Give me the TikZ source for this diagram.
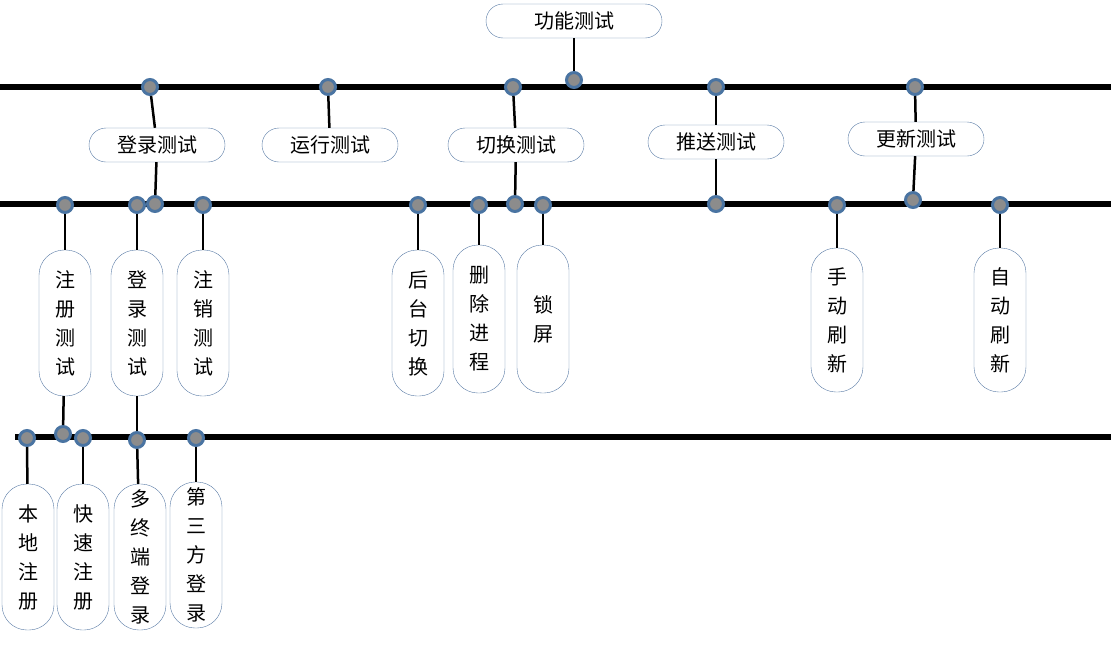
\documentclass[tikz,border=0pt]{standalone}
\usepackage{fontspec}
\setmainfont{Noto Sans CJK SC}
\usetikzlibrary{positioning}
\definecolor{ringblue}{HTML}{4A74A2}
\definecolor{dotgrey}{HTML}{8C8C8C}
\definecolor{edgeblue}{HTML}{5A7CA6}

\begin{document}
\begin{tikzpicture}[
    x=1pt, y=-1pt,
    topic/.style={draw=edgeblue, fill=white, rounded corners=17pt, align=center, minimum height=34pt, minimum width=136pt, font=\fontsize{20}{22}\selectfont, inner sep=2pt},
    leaf/.style={draw=edgeblue, fill=white, rounded corners=25pt, align=center, minimum width=52pt, text width=30pt, font=\fontsize{20}{29}\selectfont, inner sep=4pt},
    bar/.style={line width=6pt},
    stem/.style={line width=2.5pt},
    dot/.style={circle, draw=ringblue, fill=dotgrey, line width=3pt, minimum size=15pt, inner sep=0pt}
]
    \useasboundingbox (0,0) rectangle (1111,648);

    % bars
    \draw[bar] (0,87) -- (1111,87);
    \draw[bar] (0,204) -- (1111,204);
    \draw[bar] (15,437) -- (1111,437);

    % root
    \node[topic, minimum width=176pt] (root) at (574,21) {功能测试};
    \node[dot] (droot) at (574,80) {};
    \draw[stem] (root) -- (droot);

    % second level
    \node[topic] (login) at (157,145) {登录测试};
    \node[topic] (run) at (330,145) {运行测试};
    \node[topic] (switch) at (516,145) {切换测试};
    \node[topic] (push) at (716,142) {推送测试};
    \node[topic] (update) at (916,139) {更新测试};
    \foreach \n/\x in {login/150, run/328, switch/513, push/716, update/915}{
        \node[dot] (u\n) at (\x,87) {};
        \draw[stem] (u\n) -- (\n);
    }
    \foreach \n/\x/\y in {login/155/204, switch/515/204, push/716/204, update/913/200}{
        \node[dot] (d\n) at (\x,\y) {};
        \draw[stem] (\n) -- (d\n);
    }

    % third level
    \foreach \n/\x in {reg/65, signin/137, logout/203, back/418, kill/479, lock/543, manual/837, auto/1000}
        \node[dot] (t\n) at (\x,205) {};
    \node[leaf, minimum height=146pt] (reg) at (65,323) {注\\册\\测\\试};
    \node[leaf, minimum height=146pt] (signin) at (137,323) {登\\录\\测\\试};
    \node[leaf, minimum height=146pt] (logout) at (203,323) {注\\销\\测\\试};
    \node[leaf, minimum height=146pt] (back) at (418,323) {后\\台\\切\\换};
    \node[leaf, minimum height=148pt] (kill) at (479,319) {删\\除\\进\\程};
    \node[leaf, minimum height=148pt] (lock) at (543,319) {锁\\屏};
    \node[leaf, minimum height=144pt] (manual) at (837,320) {手\\动\\刷\\新};
    \node[leaf, minimum height=144pt] (auto) at (1000,320) {自\\动\\刷\\新};
    \foreach \n in {reg, signin, logout, back, kill, lock, manual, auto}
        \draw[stem] (t\n) -- (\n);

    % fourth level
    \node[dot] (dreg) at (63,434) {};
    \node[dot] (dsignin) at (137,440) {};
    \draw[stem] (reg) -- (dreg);
    \draw[stem] (signin) -- (dsignin);
    \node[leaf, minimum height=146pt] (local) at (28,557) {本\\地\\注\\册};
    \node[leaf, minimum height=146pt] (quick) at (83,557) {快\\速\\注\\册};
    \node[leaf, minimum height=146pt] (multi) at (140,557) {多\\终\\端\\登\\录};
    \node[leaf, minimum height=146pt] (third) at (196,555) {第\\三\\方\\登\\录};
    \foreach \n/\x in {local/27, quick/83, third/196}{
        \node[dot] (b\n) at (\x,438) {};
        \draw[stem] (b\n) -- (\n);
    }
    \draw[stem] (dsignin) -- (multi);
\end{tikzpicture}
\end{document}
